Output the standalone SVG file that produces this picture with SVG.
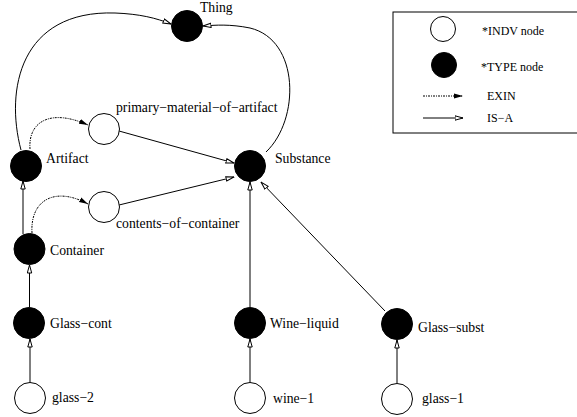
<svg xmlns="http://www.w3.org/2000/svg" width="577" height="417" viewBox="0 0 577 417">
  <style>
    .type { fill: #000; stroke: #000; stroke-width: 1; }
    .indv { fill: #fff; stroke: #000; stroke-width: 1; }
    .lbl { font-family: "Liberation Serif", "Times New Roman", serif; font-size: 13.7px; fill: #000; }
    .leg { font-family: "Liberation Serif", "Times New Roman", serif; font-size: 12px; fill: #000; }
    .isa { fill: none; stroke: #000; stroke-width: 1; marker-end: url(#isa-head); }
    .exin { fill: none; stroke: #000; stroke-width: 1; stroke-dasharray: 2 1 1 1; marker-end: url(#exin-head); }
  </style>
  <defs>
    <marker id="isa-head" markerUnits="userSpaceOnUse" viewBox="0 0 9 6" refX="8.5" refY="3" markerWidth="9" markerHeight="6" orient="auto">
      <path d="M0.5,0.8 L8.5,3 L0.5,5.2 Z" fill="#fff" stroke="#000" stroke-width="1"/>
    </marker>
    <marker id="exin-head" markerUnits="userSpaceOnUse" viewBox="0 0 9 6" refX="9" refY="3" markerWidth="9" markerHeight="6" orient="auto">
      <path d="M0,0.5 L9,3 L0,5.5 Z" fill="#000"/>
    </marker>
  </defs>

  <!-- connectors -->
  <g id="connectors">
    <path class="isa" d="M21,150 C5,90 20,10 115,13 C140,14 156,18 171,24"/>
    <path class="isa" d="M266,152 C300,120 300,40 250,28 C230,24 216,25 203,26"/>
    <path class="exin" d="M30,149 C28,122 50,108 88,125"/>
    <path class="exin" d="M32,233 C30,200 55,186 88,204"/>
    <line class="isa" x1="119" y1="131" x2="234" y2="163"/>
    <line class="isa" x1="119" y1="205" x2="234" y2="177"/>
    <line class="isa" x1="250" y1="307" x2="250" y2="182"/>
    <line class="isa" x1="385" y1="311" x2="261" y2="182"/>
    <line class="isa" x1="23" y1="234" x2="23" y2="181"/>
    <line class="isa" x1="29.5" y1="307" x2="29.5" y2="265"/>
    <line class="isa" x1="30" y1="382" x2="30" y2="339"/>
    <line class="isa" x1="250" y1="382" x2="250" y2="339"/>
    <line class="isa" x1="397" y1="383" x2="397" y2="340"/>
  </g>

  <!-- nodes -->
  <g id="thing"><circle class="type" cx="187" cy="26" r="15.5"/><text class="lbl" x="200" y="12">Thing</text></g>
  <g id="artifact"><circle class="type" cx="26" cy="166" r="15.5"/><text class="lbl" x="46" y="163">Artifact</text></g>
  <g id="primary-material-of-artifact"><circle class="indv" cx="104" cy="129" r="15.5"/><text class="lbl" x="116" y="112">primary−material−of−artifact</text></g>
  <g id="substance"><circle class="type" cx="250" cy="166" r="15.5"/><text class="lbl" x="275" y="163">Substance</text></g>
  <g id="contents-of-container"><circle class="indv" cx="104" cy="207" r="15.5"/><text class="lbl" x="116" y="228">contents−of−container</text></g>
  <g id="container"><circle class="type" cx="29.5" cy="249" r="15.5"/><text class="lbl" x="50" y="255">Container</text></g>
  <g id="glass-cont"><circle class="type" cx="29" cy="323" r="15.5"/><text class="lbl" x="50" y="328">Glass−cont</text></g>
  <g id="glass-2"><circle class="indv" cx="30" cy="398" r="15.5"/><text class="lbl" x="52" y="402">glass−2</text></g>
  <g id="wine-liquid"><circle class="type" cx="250" cy="323" r="15.5"/><text class="lbl" x="270" y="328">Wine−liquid</text></g>
  <g id="wine-1"><circle class="indv" cx="250" cy="398" r="15.5"/><text class="lbl" x="273" y="403">wine−1</text></g>
  <g id="glass-subst"><circle class="type" cx="397" cy="324" r="15.5"/><text class="lbl" x="418" y="332">Glass−subst</text></g>
  <g id="glass-1"><circle class="indv" cx="397" cy="399" r="15.5"/><text class="lbl" x="422" y="403">glass−1</text></g>

  <!-- legend -->
  <g id="legend">
    <rect x="393" y="12" width="200" height="121" fill="none" stroke="#000" stroke-width="1"/>
    <circle class="indv" cx="443" cy="29" r="12.5"/>
    <text class="leg" x="482" y="35">*INDV node</text>
    <circle class="type" cx="444" cy="65" r="12.5"/>
    <text class="leg" x="481" y="71">*TYPE node</text>
    <line class="exin" x1="423" y1="96" x2="463" y2="96"/>
    <text class="leg" x="487" y="100">EXIN</text>
    <line class="isa" x1="423" y1="118" x2="463" y2="118"/>
    <text class="leg" x="487" y="122">IS−A</text>
  </g>
</svg>
